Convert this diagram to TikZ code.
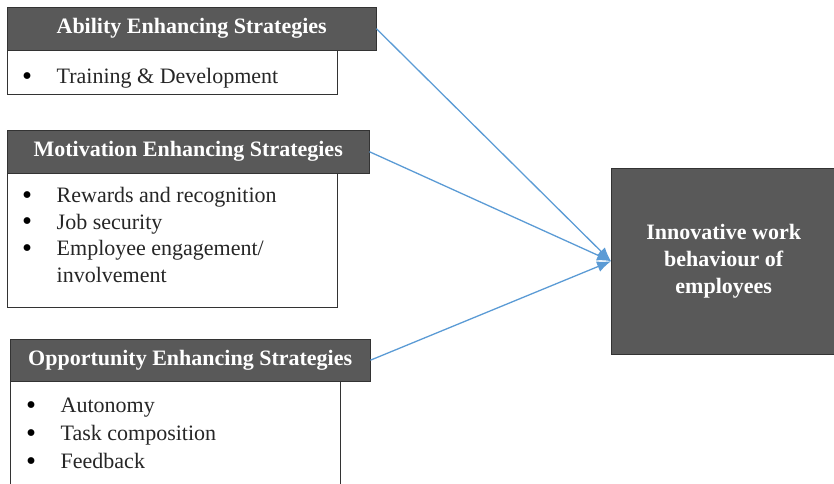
\documentclass[tikz,border=0pt]{standalone}
\usepackage{fontspec}
\setmainfont{Liberation Serif}
\usepackage{tikz}
\usetikzlibrary{arrows.meta,positioning}
\definecolor{headgray}{RGB}{89,89,89}
\definecolor{linkblue}{RGB}{91,155,213}
\newcommand{\bul}{\makebox[34.5pt][l]{\color{black}\smash{\raisebox{-1.6pt}{\scalebox{1.3}{\textbullet}}}}}

\begin{document}
\begin{tikzpicture}[x=1pt,y=-1pt,>={Latex[length=14pt,width=11pt]},
  head/.style={draw=black!80,fill=headgray,text=white,anchor=north west,inner sep=0pt,font=\fontsize{22}{27}\selectfont\bfseries},
  listbox/.style={draw=black!80,fill=white,anchor=north west,inner sep=0pt},
  items/.style={anchor=north west,align=left,inner sep=0pt,font=\fontsize{22}{26.5}\selectfont,text=black!85},
  link/.style={->,draw=linkblue,line width=1.3pt}]
\useasboundingbox (0,0) rectangle (834,483);
% ability
\node[head,minimum width=369pt,minimum height=43pt](abilhead) at (7,7){Ability Enhancing Strategies};
\node[listbox,minimum width=330pt,minimum height=44pt,below right=0pt of abilhead.south west](abillist){};
\node[items](abilitems) at ([shift={(15,18)}]abillist.north west){\bul Training \& Development};
% motivation
\node[head,minimum width=362pt,minimum height=43pt](motivhead) at (7,130){Motivation Enhancing Strategies};
\node[listbox,minimum width=330pt,minimum height=134pt,below right=0pt of motivhead.south west](motivlist){};
\node[items](motivitems) at ([shift={(15,14)}]motivlist.north west){\bul Rewards and recognition\\\bul Job security\\\bul Employee engagement/\\\hspace*{34.5pt}involvement};
% opportunity
\node[head,minimum width=360pt,minimum height=42pt](opphead) at (10,339){Opportunity Enhancing Strategies};
\node[listbox,minimum width=330pt,minimum height=130pt,below right=0pt of opphead.south west](opplist){};
\node[items,font=\fontsize{22}{28}\selectfont](oppitems) at ([shift={(16,16.5)}]opplist.north west){\bul Autonomy\\\bul Task composition\\\bul Feedback};
% outcome
\node[head,minimum width=225pt,minimum height=186pt,align=center](iwb) at (611,168){Innovative work\\behaviour of\\employees};
\draw[link](abilhead.east)--(iwb.west);
\draw[link](motivhead.east)--(iwb.west);
\draw[link](opphead.east)--(iwb.west);
\end{tikzpicture}
\end{document}
